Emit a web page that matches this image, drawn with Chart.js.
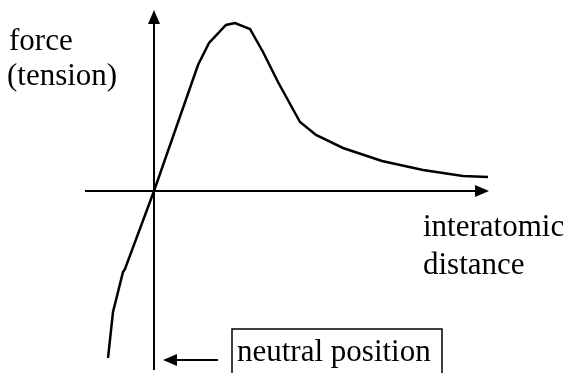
<!DOCTYPE html>
<html>
<head>
<meta charset="utf-8">
<script src="https://cdn.jsdelivr.net/npm/chart.js@4"></script>
<style>
  html, body { margin: 0; padding: 0; background: #fff; }
  #wrap { width: 569px; height: 373px; }
</style>
</head>
<body>
<div id="wrap"><canvas id="forceChart" width="569" height="373"></canvas></div>
<script>
// force vs interatomic distance (arbitrary units, origin = neutral position)
const distance = [-4.6, -4.1, -3.1, -2.9, 0, 4.4, 5.5, 7.2, 8.1, 9.6, 10.9, 12.4, 14.6, 16.2, 18.9, 22.8, 26.9, 30.9, 33.4];
const force    = [-16.7, -12.1, -8.1, -7.8, 0, 12.6, 14.8, 16.6, 16.8, 16.2, 13.9, 10.9, 6.9, 5.6, 4.3, 3.0, 2.1, 1.5, 1.4];

const yLabel = ['force', '(tension)'];
const xLabel = ['interatomic', 'distance'];
const originLabel = 'neutral position';

const FONT = '31px "Liberation Serif", "Times New Roman", serif';

function arrowHead(c, x, y, dir) {
  // dir: 'up' | 'right' | 'left'
  c.beginPath();
  if (dir === 'up') { c.moveTo(x, y); c.lineTo(x - 6, y + 14); c.lineTo(x + 6, y + 14); }
  if (dir === 'right') { c.moveTo(x, y); c.lineTo(x - 14, y - 6); c.lineTo(x - 14, y + 6); }
  if (dir === 'left') { c.moveTo(x, y); c.lineTo(x + 14, y - 6); c.lineTo(x + 14, y + 6); }
  c.closePath();
  c.fill();
}

const sketchAxes = {
  id: 'sketchAxes',
  beforeDatasetsDraw(chart) {
    const c = chart.ctx;
    const xs = chart.scales.x, ys = chart.scales.y;
    const x0 = xs.getPixelForValue(0);
    const y0 = ys.getPixelForValue(0);
    c.save();
    c.strokeStyle = '#000';
    c.fillStyle = '#000';
    c.lineWidth = 2;
    // vertical axis
    c.beginPath();
    c.moveTo(x0, 370);
    c.lineTo(x0, 20);
    c.stroke();
    arrowHead(c, x0, 10, 'up');
    // horizontal axis
    c.beginPath();
    c.moveTo(85, y0);
    c.lineTo(478, y0);
    c.stroke();
    arrowHead(c, 489, y0, 'right');
    c.restore();
  },
  afterDatasetsDraw(chart) {
    const c = chart.ctx;
    c.save();
    c.fillStyle = '#000';
    c.strokeStyle = '#000';
    c.font = FONT;
    c.textBaseline = 'alphabetic';
    c.fillText(yLabel[0], 9, 50);
    c.fillText(yLabel[1], 7, 85);
    c.fillText(xLabel[0], 423, 236);
    c.fillText(xLabel[1], 423, 274);
    // neutral position box + arrow
    c.lineWidth = 1.5;
    c.strokeRect(232, 329, 210, 50);
    c.fillText(originLabel, 237, 361);
    c.lineWidth = 2;
    c.beginPath();
    c.moveTo(218, 360);
    c.lineTo(172, 360);
    c.stroke();
    arrowHead(c, 163, 360, 'left');
    c.restore();
  }
};

const ctx = document.getElementById('forceChart').getContext('2d');
new Chart(ctx, {
  type: 'scatter',
  data: {
    datasets: [{
      data: distance.map((d, i) => ({ x: d, y: force[i] })),
      showLine: true,
      borderColor: '#000',
      borderWidth: 2.5,
      pointRadius: 0,
      tension: 0,
      fill: false
    }]
  },
  options: {
    responsive: false,
    animation: false,
    layout: { padding: 0 },
    plugins: { legend: { display: false }, tooltip: { enabled: false } },
    scales: {
      x: { type: 'linear', display: false, min: -15.4, max: 41.5 },
      y: { type: 'linear', display: false, min: -18.2, max: 19.1 }
    }
  },
  plugins: [sketchAxes]
});
</script>
</body>
</html>
